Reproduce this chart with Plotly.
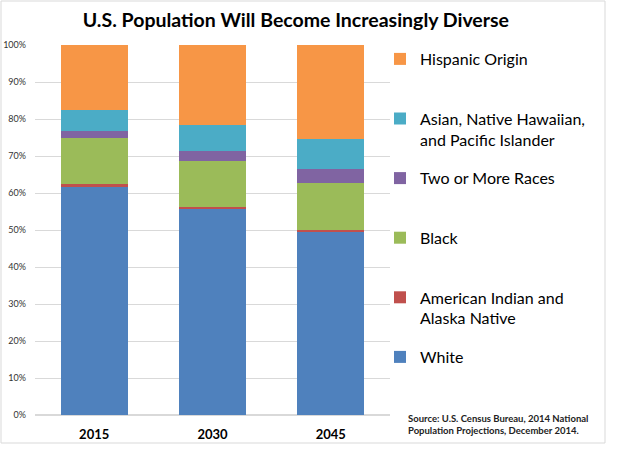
import plotly.graph_objects as go

years = ["2015", "2030", "2045"]
white = [61.7, 55.6, 49.4]
aian = [0.7, 0.7, 0.6]
black = [12.4, 12.4, 12.6]
two_more = [2.0, 2.7, 3.9]
asian = [5.6, 7.1, 8.2]
hispanic = [17.6, 21.5, 25.3]

series = [
    ("White", white, "#4F81BD"),
    ("American Indian and<br>Alaska Native", aian, "#C0504D"),
    ("Black", black, "#9BBB59"),
    ("Two or More Races", two_more, "#8064A2"),
    ("Asian, Native Hawaiian,<br>and Pacific Islander", asian, "#4BACC6"),
    ("Hispanic Origin", hispanic, "#F79646"),
]

fig = go.Figure()
n = len(series)
for i, (name, vals, color) in enumerate(series):
    label = name if "<br>" in name else name + "<br> "
    fig.add_trace(go.Bar(
        x=years, y=vals, name=label, marker_color=color,
        marker_line_width=0, legendgroup="g%d" % i, legendrank=n - i,
    ))

W, H = 619, 450
L, R, T, B = 35, 229, 45, 35
pw, ph = W - L - R, H - T - B

def px(x):
    return (x - L) / pw

def py(y):
    return (H - B - y) / ph

fig.update_layout(
    width=W, height=H,
    margin=dict(l=L, r=R, t=T, b=B, autoexpand=False),
    barmode="stack", bargap=0.434,
    paper_bgcolor="white", plot_bgcolor="white",
    font=dict(family="Lato", color="#000000"),
    title=dict(text="<b>U.S. Population Will Become Increasingly Diverse</b>",
               x=0.478, xanchor="center", y=1 - 20 / H, yanchor="middle",
               font=dict(size=19.5, family="Lato", color="#000000")),
    showlegend=True,
    legend=dict(traceorder="grouped", x=px(380), xanchor="left",
                yref="container", y=1 - 42 / H, yanchor="top", valign="top",
                tracegroupgap=15, maxheight=1.0,
                font=dict(size=16, family="Lato", color="#000000"),
                bgcolor="rgba(0,0,0,0)"),
    xaxis=dict(showgrid=False, showline=False, ticks="", automargin=False,
               ticklabelstandoff=10,
               tickfont=dict(size=13, family="Lato", color="#000000", weight="bold")),
    yaxis=dict(range=[0, 100], dtick=10, ticksuffix="%", showgrid=True, automargin=False,
               gridcolor="#D9D9D9", gridwidth=1, zeroline=True, zerolinecolor="#D9D9D9",
               showline=False, ticks="", ticklabelstandoff=8,
               tickfont=dict(size=9, family="Lato", color="#333333")),
    shapes=[dict(type="rect", xref="paper", yref="paper",
                 x0=px(1), x1=px(605), y0=py(443), y1=py(1),
                 line=dict(color="#D9D9D9", width=1), fillcolor="rgba(0,0,0,0)", layer="below")],
    annotations=[dict(text="<b>Source: U.S. Census Bureau, 2014 National<br>Population Projections, December 2014.</b>",
                      xref="paper", yref="paper", x=px(406), y=py(424), xanchor="left", yanchor="middle",
                      align="left", showarrow=False,
                      font=dict(size=9.5, family="Lato", color="#222222"))],
)

fig.write_html("out.html", config={"displayModeBar": False},
               post_script="document.body.style.margin='0';")
